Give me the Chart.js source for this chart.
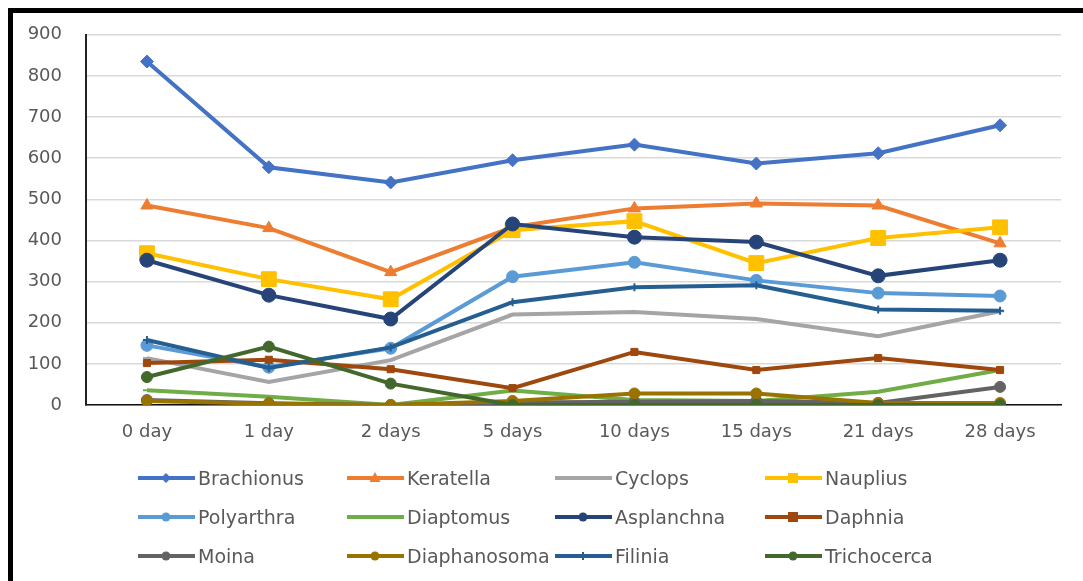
<!DOCTYPE html>
<html>
<head>
<meta charset="utf-8">
<script src="https://cdn.jsdelivr.net/npm/chart.js@4/dist/chart.umd.min.js"></script>
<style>
  html, body { margin: 0; padding: 0; background: #fff; }
  #wrap { position: relative; width: 1083px; height: 581px; overflow: hidden; background: #fff; }
  #c { position: absolute; left: 0; top: 0; }
  #frame { position: absolute; left: 8px; top: 8px; right: -10px; bottom: -10px;
           border-top: 5px solid #000; border-left: 5px solid #000; pointer-events: none; }
  .lg { position: absolute; height: 24px; display: flex; align-items: center;
        font-family: "DejaVu Sans", sans-serif; font-size: 19px; color: #595959; white-space: nowrap; }
  .lg svg { display: block; margin-right: 3px; }
</style>
</head>
<body>
<div id="wrap">
  <canvas id="c" width="1083" height="581"></canvas>
  <div id="legend"></div>
  <div id="frame"></div>
</div>
<script>
const categories = ['0 day', '1 day', '2 days', '5 days', '10 days', '15 days', '21 days', '28 days'];
const yTicks = [0, 100, 200, 300, 400, 500, 600, 700, 800, 900];

const brachionus   = [835, 578, 541, 595, 633, 587, 612, 680];
const keratella    = [485, 430, 323, 432, 478, 490, 485, 393];
const cyclops      = [114, 56, 109, 220, 226, 209, 167, 228];
const nauplius     = [369, 306, 257, 425, 447, 345, 406, 432];
const polyarthra   = [145, 92, 138, 312, 347, 303, 272, 265];
const diaptomus    = [36, 20, 0, 35, 12, 10, 32, 85];
const asplanchna   = [352, 267, 209, 440, 408, 396, 314, 352];
const daphnia      = [102, 110, 87, 41, 129, 85, 114, 85];
const moina        = [12, 4, 0, 6, 8, 10, 5, 44];
const diaphanosoma = [10, 3, 0, 10, 28, 28, 5, 5];
const filinia      = [158, 90, 140, 250, 286, 291, 232, 229];
const trichocerca  = [68, 142, 52, 0, 0, 0, 0, 0];

const seriesNames = ['Brachionus', 'Keratella', 'Cyclops', 'Nauplius', 'Polyarthra', 'Diaptomus',
                     'Asplanchna', 'Daphnia', 'Moina', 'Diaphanosoma', 'Filinia', 'Trichocerca'];
const seriesData = [brachionus, keratella, cyclops, nauplius, polyarthra, diaptomus,
                    asplanchna, daphnia, moina, diaphanosoma, filinia, trichocerca];
const colors = ['#4472C4', '#ED7D31', '#A5A5A5', '#FFC000', '#5B9BD5', '#70AD47',
                '#264478', '#9E480E', '#636363', '#997300', '#255E91', '#43682B'];
const styles = ['rectRot', 'triangle', 'line', 'rect', 'circle', 'line',
                'circle', 'rect', 'circle', 'circle', 'cross', 'circle'];
const radii  = [6.5, 7, 4, 10.5, 6, 4, 7, 5, 5.5, 5.5, 4, 5.5];

const datasets = seriesNames.map((name, i) => ({
  label: name,
  data: seriesData[i],
  borderColor: colors[i],
  backgroundColor: colors[i],
  pointBackgroundColor: colors[i],
  pointBorderColor: colors[i],
  pointStyle: styles[i],
  pointRadius: radii[i],
  pointBorderWidth: (styles[i] === 'line' || styles[i] === 'cross') ? 2 : 1,
  borderWidth: 4,
  tension: 0,
  fill: false,
  order: seriesNames.length - i
}));

new Chart(document.getElementById('c'), {
  type: 'line',
  data: { labels: categories, datasets },
  options: {
    responsive: false,
    animation: false,
    devicePixelRatio: 1,
    layout: { padding: { left: 0, top: 34, right: 22, bottom: 131 } },
    plugins: { legend: { display: false }, tooltip: { enabled: false } },
    scales: {
      x: {
        offset: true,
        grid: { display: false, drawTicks: false },
        border: { display: true, color: '#111', width: 1.5 },
        ticks: { color: '#595959', padding: 17, maxRotation: 0,
                 font: { family: 'DejaVu Sans', size: 18 } },
        afterFit: s => { s.height = 45; }
      },
      y: {
        min: 0, max: 900,
        afterBuildTicks: s => { s.ticks = yTicks.map(v => ({ value: v })); },
        grid: { color: '#d9d9d9', lineWidth: 1.5, drawTicks: false },
        border: { display: true, color: '#222', width: 2 },
        ticks: { color: '#595959', padding: 24,
                 font: { family: 'DejaVu Sans', size: 18 } },
        afterFit: s => { s.width = 86; }
      }
    }
  }
});

// Legend (HTML, 3 rows x 4 columns)
const colX = [138, 347, 555, 765];
const rowY = [478, 517, 556];
const legend = document.getElementById('legend');
function markerSvg(style, color) {
  const cx = 28, cy = 12;
  switch (style) {
    case 'rectRot': return `<polygon points="${cx},${cy-5} ${cx+5},${cy} ${cx},${cy+5} ${cx-5},${cy}" fill="${color}"/>`;
    case 'triangle': return `<polygon points="${cx},${cy-6} ${cx+5.5},${cy+4} ${cx-5.5},${cy+4}" fill="${color}"/>`;
    case 'rect': return `<rect x="${cx-5}" y="${cy-5}" width="10" height="10" fill="${color}"/>`;
    case 'circle': return `<circle cx="${cx}" cy="${cy}" r="4.5" fill="${color}"/>`;
    case 'cross': return `<line x1="${cx}" y1="${cy-4}" x2="${cx}" y2="${cy+4}" stroke="${color}" stroke-width="2"/>`;
    default: return '';
  }
}
seriesNames.forEach((name, i) => {
  const r = Math.floor(i / 4), c = i % 4;
  const d = document.createElement('div');
  d.className = 'lg';
  d.style.left = colX[c] + 'px';
  d.style.top = (rowY[r] - 12) + 'px';
  d.innerHTML = `<svg width="57" height="24"><line x1="0" y1="12" x2="57" y2="12" stroke="${colors[i]}" stroke-width="4"/>${markerSvg(styles[i], colors[i])}</svg><span>${name}</span>`;
  legend.appendChild(d);
});
</script>
</body>
</html>
